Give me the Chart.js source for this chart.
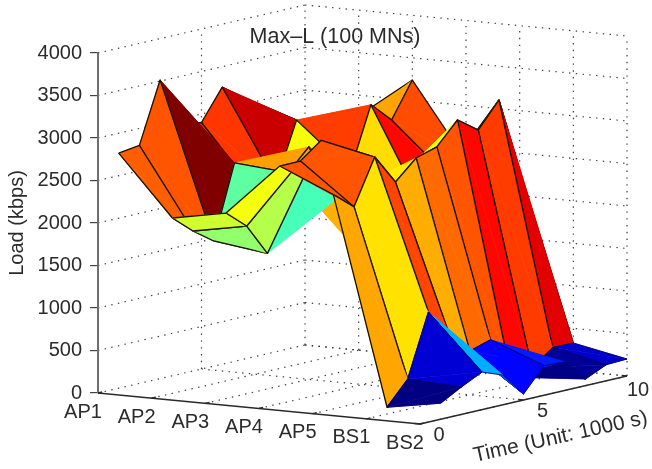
<!DOCTYPE html>
<html>
<head>
<meta charset="utf-8">
<style>html,body{margin:0;padding:0;background:#fff}canvas{display:block}</style>
<script src="https://cdn.jsdelivr.net/npm/chart.js@4/dist/chart.umd.min.js"></script>
</head>
<body>
<canvas id="c" width="652" height="469"></canvas>
<script>
// ---- data ----
const categories = ['AP1','AP2','AP3','AP4','AP5','BS1','BS2'];
const times = [1,2,3,4,5,6,7,8,9,10];
const loadTicks = [0,500,1000,1500,2000,2500,3000,3500,4000];
const timeTicks = [0,5,10];
const AP1 = [2765,2800,3513,2930,2900,3260,3082,2650,2450,2300];
const AP2 = [2063,1854,1680,2541,2143,2193,2876,2600,2530,2757];
const AP3 = [2182,1973,1596,2488,2733,2400,2338,3060,2826,3239];
const AP4 = [2796,2798,2985,2286,1510,2200,2187,1872,2250,2359];
const AP5 = [2520,2320,2850,2500,2725,2800,3060,2885,3182,2300];
const BS1 = [80,355,1087,772,515,590,94,147,330,327];
const BS2 = [188,322,442,350,70,350,334,78,190,200];
const loads = [AP1,AP2,AP3,AP4,AP5,BS1,BS2];

// ---- oblique view of the 3-D box, in axis units ----
const tLean = 0.3857, iDrop = 60.8, tRise = 56.47;
const project = (i,t,z) => ({x: i + t*tLean, y: z - i*iDrop + t*tRise});

const allZ = loads.flat();
const zMin = Math.min(...allZ), zMax = Math.max(...allZ);
const cl = v => Math.round(255*Math.max(0,Math.min(1,v)));
function jet(z){
  const f=(z-zMin)/(zMax-zMin);
  return `rgb(${cl(1.5-Math.abs(4*f-3))},${cl(1.5-Math.abs(4*f-2))},${cl(1.5-Math.abs(4*f-1))})`;
}

const paint = [];   // painted first -> last
const base = {showLine:true,pointRadius:0,pointHitRadius:0,clip:false,tension:0,fill:false,borderJoinStyle:'round'};
function grid(a,b){
  paint.push({...base,data:[project(...a),project(...b)],borderColor:'#3c3c3c',borderWidth:1.2,borderDash:[1.4,5.4]});
}
const nC = categories.length-1, tEnd = timeTicks[timeTicks.length-1], zTop = loadTicks[loadTicks.length-1];
loadTicks.forEach(z=>{ grid([0,0,z],[0,tEnd,z]); grid([0,tEnd,z],[nC,tEnd,z]); });
[timeTicks[1],tEnd].forEach(t=>{ grid([0,t,0],[0,t,zTop]); grid([0,t,0],[nC,t,0]); });
categories.forEach((c,i)=>{ if(i>0){ grid([i,0,0],[i,tEnd,0]); grid([i,tEnd,0],[i,tEnd,zTop]); } });

// surface panels, far to near; flat colour from the panel's first corner.
// Each non-planar panel is two triangles: the back one, then the front one.
for(let i=0;i<nC;i++){
  for(let k=times.length-2;k>=0;k--){
    const t=times[k], t2=times[k+1];
    const A=project(i,t,loads[i][k]), B=project(i,t2,loads[i][k+1]),
          C=project(i+1,t2,loads[i+1][k+1]), D=project(i+1,t,loads[i+1][k]);
    const col=jet(loads[i][k]);
    const edge=i===5?'#00006e':'#1a1208';
    const edgeW=i===5?0.9:1.3;
    const tri={...base,fill:'shape',backgroundColor:col,borderColor:col,borderWidth:0.6};
    const ln={...base,borderColor:edge,borderWidth:edgeW};
    paint.push({...tri,data:[A,B,C,A]});
    paint.push({...ln,data:[A,B,C]});
    paint.push({...tri,data:[A,C,D,A]});
    paint.push({...ln,data:[C,D,A]});
  }
}
// axis lines and tick marks
const axisLine=(a,b,w,c)=>paint.push({...base,data:[project(...a),project(...b)],borderColor:c,borderWidth:w});
axisLine([0,0,0],[0,0,zTop],2,'#6f6f6f');
axisLine([0,0,0],[nC,0,0],1.6,'#2a2a2a');
axisLine([nC,0,0],[nC,tEnd,0],1.6,'#2a2a2a');
categories.forEach((c,i)=>axisLine([i,0,0],[i,0.2,0],1.4,'#2a2a2a'));
timeTicks.forEach(t=>axisLine([nC,t,0],[nC-0.1,t,0],1.4,'#2a2a2a'));

const FONT='"Liberation Sans", Arial, sans-serif';
const TXT='#2b2b2b';
const labels3d={
  id:'labels3d',
  beforeDatasetsDraw(ch){ ch.$area=ch.chartArea; ch.chartArea={left:0,top:0,right:652,bottom:469,width:652,height:469}; },
  afterDatasetsDraw(ch){ ch.chartArea=ch.$area; },
  afterDraw(ch){
    const c=ch.ctx, X=ch.scales.x, Y=ch.scales.y;
    const px=(i,t,z)=>{const p=project(i,t,z);return [X.getPixelForValue(p.x),Y.getPixelForValue(p.y)];};
    c.save();
    c.font='20px '+FONT; c.fillStyle=TXT; c.textAlign='center'; c.textBaseline='middle';
    categories.forEach((n,i)=>{const [x,y]=px(i,0,0); c.fillText(n,x-15,y+19);});
    timeTicks.forEach(t=>{const [x,y]=px(nC,t,0); c.fillText(String(t),x+(t===tEnd?11:19),y+(t===tEnd?14:11));});
    const [tx,ty]=px(nC,5,0);
    c.font='21px '+FONT;
    c.translate(tx+37,ty+37); c.rotate(-12.5*Math.PI/180);
    c.fillText('Time (Unit: 1000 s)',0,0);
    c.restore();
  }
};

new Chart(document.getElementById('c'),{
  type:'scatter',
  data:{datasets:paint.slice().reverse()},
  plugins:[labels3d],
  options:{
    responsive:false,animation:false,
    layout:{padding:{left:18,right:0,top:0,bottom:76}},
    plugins:{
      legend:{display:false},tooltip:{enabled:false},
      title:{display:true,text:'Max\u2013L (100 MNs)',color:TXT,font:{family:FONT,size:21.5,weight:'normal'},padding:{top:24,bottom:3.2}}
    },
    scales:{
      x:{type:'linear',display:false,min:0,max:(652-98)/53.67},
      y:{type:'linear',min:0,max:zTop,
        afterFit(s){s.width=80;},
        afterBuildTicks(s){s.ticks=loadTicks.map(v=>({value:v}));},
        ticks:{color:TXT,padding:8,font:{family:FONT,size:20},autoSkip:false,callback:v=>String(v)},
        grid:{drawOnChartArea:false,drawTicks:true,tickLength:8,color:'#444',lineWidth:1.2},
        border:{display:true,color:'#6f6f6f',width:2},
        title:{display:true,text:'Load (kbps)',color:TXT,font:{family:FONT,size:20},padding:{top:-13,bottom:0}}
      }
    }
  }
});
</script>
</body>
</html>
